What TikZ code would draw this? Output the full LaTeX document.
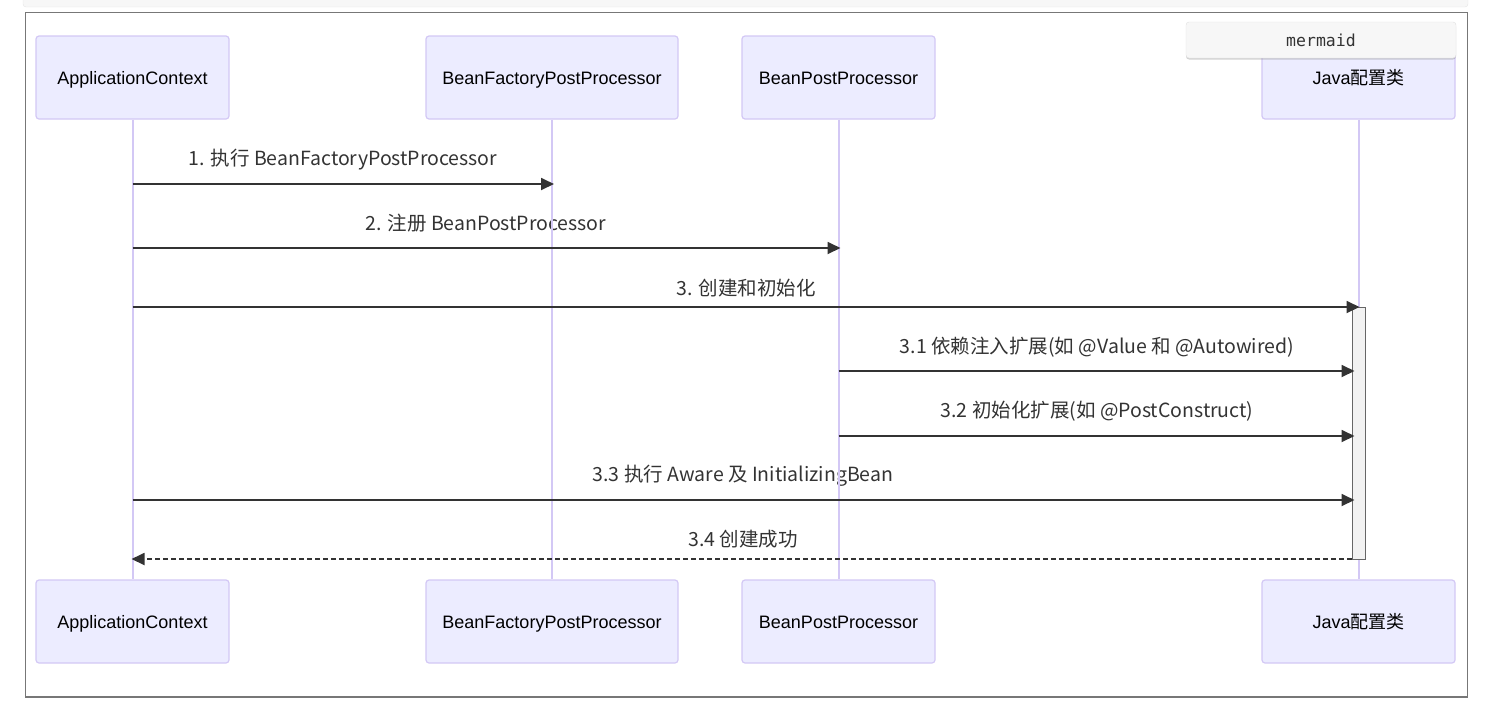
\documentclass[tikz,border=0pt]{standalone}
\usepackage{fontspec}
\setmainfont{Liberation Sans}
\newfontfamily\cjk{Noto Sans CJK SC}
\newfontfamily\monof{DejaVu Sans Mono}
\usetikzlibrary{arrows.meta,shadows}
\definecolor{actfill}{HTML}{ECECFF}
\definecolor{actline}{HTML}{D3C8F5}
\definecolor{ink}{HTML}{333333}
\definecolor{framec}{HTML}{777777}
\tikzset{
  actor/.style={draw=actline, fill=actfill, line width=1.2pt, rounded corners=3pt,
    minimum width=193pt, minimum height=83pt, inner sep=0pt, text=black,
    font=\fontsize{18}{20}\selectfont, text height=15pt, text depth=2pt},
  life/.style={draw=actline, line width=2pt},
  msg/.style={draw=ink, line width=1.8pt, -{Triangle[length=13pt,width=12pt]}},
  ret/.style={msg, dash pattern=on 5pt off 3pt},
  mlabel/.style={text=ink, font=\cjk\fontsize{19.5}{22}\selectfont, inner sep=0pt},
}
\begin{document}
\begin{tikzpicture}[x=1pt,y=-1pt]
\useasboundingbox (0,0) rectangle (1505,702);
% top strip and frame
\fill[fill=black!3, draw=black!10, rounded corners=3pt] (23,-10) rectangle (1468,7);
\draw[framec, line width=1.2pt] (25.5,12.5) rectangle (1467.5,697);
% actors
\node[actor] (a1) at (132.5,77.5) {ApplicationContext};
\node[actor, minimum width=252pt] (b1) at (552,77.5) {BeanFactoryPostProcessor};
\node[actor] (c1) at (838.5,77.5) {BeanPostProcessor};
\node[actor] (d1) at (1358.5,77.5) {Java{\cjk 配置类}};
\node[actor] (a2) at (132.5,621.5) {ApplicationContext};
\node[actor, minimum width=252pt] (b2) at (552,621.5) {BeanFactoryPostProcessor};
\node[actor] (c2) at (838.5,621.5) {BeanPostProcessor};
\node[actor] (d2) at (1358.5,621.5) {Java{\cjk 配置类}};
% labels
\node[mlabel] (l1) at (343,159.5) {1. 执行 BeanFactoryPostProcessor};
\node[mlabel] (l2) at (486,223.5) {2. 注册 BeanPostProcessor};
\node[mlabel] (l3) at (746,288.5) {3. 创建和初始化};
\node[mlabel] (l31) at (1097,347.5) {3.1 依赖注入扩展(如 @Value 和 @Autowired)};
\node[mlabel] (l32) at (1097,411.5) {3.2 初始化扩展(如 @PostConstruct)};
\node[mlabel] (l33) at (743,475.5) {3.3 执行 Aware 及 InitializingBean};
\node[mlabel] (l34) at (743,539.5) {3.4 创建成功};
% lifelines
\draw[life] (a1.south) -- (a2.north);
\draw[life] (b1.south) -- (b2.north);
\draw[life] (c1.south) -- (c2.north);
\draw[life] (d1.south) -- (d2.north);
% activation
\node[draw=black!60, fill=black!5, line width=1pt, minimum width=13pt, minimum height=252pt, inner sep=0pt] (act) at (1358.5,433) {};
% y levels
\coordinate (y1) at (0,184);
\coordinate (y2) at (0,248);
\coordinate (y3) at (0,307);
\coordinate (y31) at (0,371);
\coordinate (y32) at (0,436);
\coordinate (y33) at (0,500);
\coordinate (y34) at (0,559);
% messages
\draw[msg] (a1.south |- y1) -- ([xshift=2pt]b1.south |- y1);
\draw[msg] (a1.south |- y2) -- ([xshift=2pt]c1.south |- y2);
\draw[msg] (a1.south |- y3) -- ([xshift=1pt]d1.south |- y3);
\draw[msg] (c1.south |- y31) -- ([xshift=-4pt]d1.south |- y31);
\draw[msg] (c1.south |- y32) -- ([xshift=-4pt]d1.south |- y32);
\draw[msg] (a1.south |- y33) -- ([xshift=-4pt]d1.south |- y33);
\draw[ret] (act.west |- y34) -- ([xshift=-1pt]a1.south |- y34);
% mermaid tag
\node[draw=black!12, fill=black!3, rounded corners=3pt, minimum width=270pt, minimum height=36pt,
  drop shadow={shadow xshift=0pt, shadow yshift=-1.5pt, opacity=0.35},
  text=ink, font=\monof\fontsize{16.5}{20}\selectfont] (tag) at (1321,40) {mermaid};
\end{tikzpicture}
\end{document}
